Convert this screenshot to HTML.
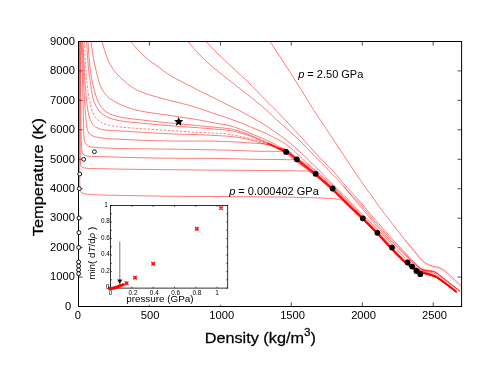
<!DOCTYPE html>
<html><head><meta charset="utf-8"><title>T-rho isobars</title>
<style>
html,body{margin:0;padding:0;background:#fff;}
body{width:491px;height:379px;overflow:hidden;font-family:"Liberation Sans",sans-serif;}
svg{display:block;}
text{font-family:"Liberation Sans",sans-serif;fill:#000;}
svg{will-change:transform;}
</style></head><body>
<svg width="491" height="379" viewBox="0 0 491 379">
<rect width="491" height="379" fill="#fff"/>
<defs><clipPath id="cp"><rect x="78.5" y="41.5" width="383.1" height="265.0"/></clipPath></defs>
<path d="M78.5 306.5h4.1M461.6 306.5h-4.1M78.5 277.1h4.1M461.6 277.1h-4.1M78.5 247.6h4.1M461.6 247.6h-4.1M78.5 218.2h4.1M461.6 218.2h-4.1M78.5 188.7h4.1M461.6 188.7h-4.1M78.5 159.3h4.1M461.6 159.3h-4.1M78.5 129.8h4.1M461.6 129.8h-4.1M78.5 100.4h4.1M461.6 100.4h-4.1M78.5 70.9h4.1M461.6 70.9h-4.1M78.5 41.5h4.1M461.6 41.5h-4.1M78.5 306.5v-4.1M78.5 41.5v4.1M149.4 306.5v-4.1M149.4 41.5v4.1M220.4 306.5v-4.1M220.4 41.5v4.1M291.3 306.5v-4.1M291.3 41.5v4.1M362.3 306.5v-4.1M362.3 41.5v4.1M433.2 306.5v-4.1M433.2 41.5v4.1" stroke="#000" stroke-width="0.7" fill="none"/>
<g clip-path="url(#cp)" fill="none" stroke="#ff0000" stroke-width="0.52" stroke-linejoin="round">
<path d="M79.7 41.5C79.7 67.7 79.7 95.0 79.7 120.0C79.7 143.0 79.6 177.7 79.8 186.0C79.9 187.9 79.8 188.5 80.0 189.6C80.2 190.5 80.5 191.4 81.0 192.0C81.5 192.6 82.2 193.0 83.0 193.3C83.9 193.7 84.7 193.8 86.0 194.0C88.3 194.4 92.4 194.6 96.0 194.8C100.3 195.0 105.3 195.1 110.0 195.2C114.9 195.3 118.7 195.4 125.0 195.5C135.6 195.7 152.4 196.0 168.0 196.2C186.8 196.4 208.7 196.4 230.0 196.6C252.6 196.8 282.3 197.0 300.0 197.4C310.8 197.6 319.6 198.0 326.0 198.3C329.8 198.5 332.6 198.5 335.0 198.8C336.6 199.0 337.7 199.3 339.0 199.6C340.2 199.9 341.2 199.7 342.6 200.5C345.7 202.3 351.3 209.1 355.0 212.6C357.9 215.4 360.0 217.1 363.0 220.1C367.2 224.2 373.0 230.0 377.8 235.0C382.6 240.0 388.3 246.2 392.0 250.2C394.4 252.8 396.2 254.7 398.0 256.5C399.5 258.0 400.5 259.1 402.0 260.4C403.7 261.9 405.7 263.8 407.5 265.1C409.0 266.3 410.5 267.2 412.0 268.1C413.4 269.0 414.9 269.9 416.3 270.7C417.7 271.4 419.1 272.1 420.4 272.6C421.6 273.0 422.8 273.3 424.0 273.6C425.3 274.0 426.8 274.3 428.0 274.7C429.1 275.0 430.0 275.3 431.0 275.6C432.0 275.9 433.1 276.3 434.0 276.6C434.8 276.9 435.4 277.1 436.2 277.5C437.3 278.1 438.5 279.0 440.0 280.1C442.2 281.7 445.3 284.0 448.0 286.0C450.7 288.1 453.5 290.2 456.2 292.3"/>
<path d="M79.9 41.5C79.9 71.0 79.9 109.5 80.0 130.0C80.0 140.9 80.1 149.0 80.2 155.0C80.3 158.4 80.2 161.1 80.4 163.0C80.5 164.1 80.6 164.9 80.8 165.6C81.0 166.2 81.2 166.7 81.6 167.0C82.1 167.4 82.8 167.5 83.5 167.7C84.3 167.9 84.9 168.1 86.0 168.2C88.2 168.5 92.7 168.5 96.0 168.6C99.3 168.7 102.1 168.7 106.0 168.8C111.3 168.9 117.4 169.1 125.0 169.2C136.4 169.4 150.8 169.5 168.0 169.7C194.0 170.0 241.8 170.3 266.0 170.5C280.3 170.6 292.8 170.7 300.0 170.9C303.4 171.0 305.5 170.9 307.4 171.2C308.6 171.4 309.3 171.4 310.4 172.0C311.9 172.7 313.5 174.1 315.4 175.6C317.9 177.6 321.1 180.5 324.0 183.0C326.9 185.5 329.6 187.9 332.6 190.6C336.1 193.9 339.8 197.7 343.5 201.3C347.3 204.9 351.5 209.1 355.0 212.5C357.9 215.2 360.0 217.0 363.0 220.0C367.2 224.1 373.0 229.9 377.8 234.9C382.6 239.9 388.3 246.1 392.0 250.1C394.4 252.7 396.2 254.6 398.0 256.4C399.5 257.9 400.5 259.0 402.0 260.3C403.7 261.8 405.7 263.7 407.5 265.0C409.0 266.2 410.5 267.1 412.0 268.0C413.4 268.9 414.9 269.9 416.3 270.6C417.7 271.4 419.1 272.0 420.4 272.5C421.6 273.0 422.8 273.2 424.0 273.5C425.3 273.9 426.8 274.3 428.0 274.6C429.1 275.0 430.0 275.2 431.0 275.6C432.0 275.9 433.1 276.2 434.0 276.6C434.8 276.9 435.4 277.0 436.2 277.5C437.3 278.1 438.5 279.0 440.0 280.1C442.2 281.6 445.3 283.9 448.0 286.0C450.7 288.0 453.5 290.2 456.2 292.3"/>
<path d="M80.3 41.5C80.4 61.0 80.6 83.7 80.7 100.0C80.8 111.7 80.8 121.7 81.0 130.0C81.1 135.9 81.2 140.9 81.5 145.0C81.7 147.8 81.8 150.4 82.2 152.0C82.4 152.9 82.7 153.5 83.0 154.0C83.3 154.4 83.6 154.7 84.0 155.0C84.5 155.3 85.3 155.6 86.0 155.8C86.7 156.0 87.0 156.1 88.0 156.2C91.0 156.5 99.9 156.6 106.0 156.8C112.2 157.0 117.4 157.2 125.0 157.4C136.4 157.7 153.3 158.0 168.0 158.2C183.3 158.4 200.0 158.2 215.0 158.4C228.9 158.6 242.6 159.1 255.0 159.3C265.7 159.5 279.1 159.5 285.0 159.6C287.5 159.7 288.8 159.9 290.3 159.8C291.4 159.7 292.3 159.0 293.3 159.2C294.4 159.5 295.2 160.6 296.6 161.6C298.9 163.3 302.9 166.2 306.0 168.5C309.1 170.8 312.4 173.0 315.4 175.4C318.4 177.8 321.1 180.3 324.0 182.8C326.9 185.3 329.6 187.7 332.6 190.4C336.1 193.6 339.8 197.5 343.5 201.1C347.3 204.8 351.5 208.9 355.0 212.3C357.9 215.1 360.0 216.9 363.0 219.9C367.2 224.0 373.0 229.7 377.8 234.8C382.6 239.8 388.3 246.0 392.0 250.0C394.4 252.5 396.2 254.5 398.0 256.3C399.5 257.8 400.5 258.9 402.0 260.2C403.7 261.7 405.7 263.6 407.5 264.9C409.0 266.1 410.5 267.0 412.0 267.9C413.4 268.8 414.9 269.8 416.3 270.5C417.7 271.3 419.1 271.9 420.4 272.4C421.6 272.9 422.8 273.1 424.0 273.5C425.3 273.8 426.8 274.2 428.0 274.6C429.1 274.9 430.0 275.2 431.0 275.5C432.0 275.8 433.1 276.2 434.0 276.5C434.8 276.8 435.4 277.0 436.2 277.4C437.3 278.0 438.5 278.9 440.0 280.0C442.2 281.6 445.3 283.9 448.0 285.9C450.7 288.0 453.5 290.1 456.2 292.2"/>
<path d="M81.2 41.5C81.5 48.3 81.7 54.1 82.0 62.0C82.4 72.7 82.7 89.3 83.0 100.0C83.2 107.7 83.3 113.5 83.5 120.0C83.7 126.2 83.6 134.3 84.0 138.0C84.2 139.6 84.3 140.5 84.6 141.5C84.8 142.3 85.0 142.8 85.5 143.5C86.1 144.3 86.9 145.4 88.0 146.0C89.3 146.7 90.9 146.9 93.0 147.2C96.3 147.7 101.3 147.8 106.0 148.0C111.7 148.3 117.4 148.4 125.0 148.6C136.4 148.8 153.3 148.9 168.0 149.1C183.6 149.3 202.9 149.6 216.0 149.9C225.1 150.1 232.0 150.3 239.0 150.5C244.8 150.7 249.4 151.1 255.0 151.2C261.3 151.4 270.6 151.2 275.0 151.3C277.1 151.4 278.5 151.5 279.8 151.5C280.8 151.5 281.4 151.2 282.3 151.4C283.5 151.7 284.6 152.6 286.1 153.6C288.8 155.3 293.2 158.7 296.6 161.2C299.8 163.6 302.9 165.8 306.0 168.1C309.1 170.5 312.4 172.7 315.4 175.1C318.4 177.5 321.1 180.1 324.0 182.6C326.9 185.1 329.6 187.4 332.6 190.2C336.1 193.4 339.8 197.2 343.5 200.8C347.3 204.5 351.5 208.7 355.0 212.1C357.9 214.9 360.0 216.7 363.0 219.7C367.2 223.8 373.0 229.6 377.8 234.6C382.6 239.6 388.3 245.9 392.0 249.8C394.4 252.4 396.2 254.3 398.0 256.1C399.5 257.6 400.5 258.7 402.0 260.1C403.7 261.6 405.7 263.4 407.5 264.8C409.0 265.9 410.5 266.8 412.0 267.8C413.4 268.7 414.9 269.6 416.3 270.4C417.7 271.1 419.1 271.8 420.4 272.3C421.6 272.8 422.8 273.0 424.0 273.4C425.3 273.7 426.8 274.1 428.0 274.5C429.1 274.8 430.0 275.1 431.0 275.4C432.0 275.7 433.1 276.1 434.0 276.4C434.8 276.7 435.4 276.9 436.2 277.3C437.3 277.9 438.5 278.9 440.0 279.9C442.2 281.5 445.3 283.8 448.0 285.8C450.7 287.9 453.5 290.1 456.2 292.2"/>
<path d="M82.0 41.5C82.3 48.3 82.7 55.2 83.0 62.0C83.3 68.7 83.5 75.5 83.8 82.0C84.0 88.2 84.2 94.9 84.5 100.0C84.7 103.8 85.0 106.7 85.2 110.0C85.5 113.3 85.7 116.8 86.0 120.0C86.3 123.1 86.7 126.8 87.2 129.0C87.5 130.3 87.8 131.1 88.2 132.0C88.6 132.8 88.8 133.4 89.5 134.0C90.4 134.9 91.9 135.7 93.5 136.3C95.8 137.1 98.5 137.5 102.0 138.0C107.8 138.8 116.1 139.1 125.0 139.5C137.1 140.1 153.3 140.7 168.0 141.0C183.6 141.3 203.4 140.9 216.0 141.2C224.1 141.4 229.8 141.7 236.0 142.0C241.4 142.3 246.6 142.7 251.0 143.0C254.4 143.2 257.4 143.4 260.0 143.6C261.9 143.7 263.2 143.7 265.0 144.0C267.2 144.3 269.8 145.0 272.0 145.7C274.1 146.4 276.2 147.4 278.0 148.3C279.5 149.0 280.7 149.8 282.0 150.6C283.4 151.4 284.5 151.9 286.1 153.0C288.8 154.7 293.2 158.2 296.6 160.7C299.8 163.1 302.9 165.4 306.0 167.7C309.1 170.1 312.4 172.3 315.4 174.8C318.4 177.2 321.1 179.7 324.0 182.2C326.9 184.8 329.6 187.1 332.6 189.9C336.1 193.1 339.8 196.9 343.5 200.5C347.3 204.2 351.5 208.5 355.0 211.8C357.9 214.7 359.9 216.5 363.0 219.5C367.2 223.6 373.0 229.4 377.8 234.4C382.6 239.4 388.3 245.7 392.0 249.6C394.4 252.2 396.2 254.1 398.0 256.0C399.5 257.4 400.5 258.5 402.0 259.9C403.7 261.4 405.7 263.2 407.5 264.6C409.0 265.8 410.5 266.7 412.0 267.6C413.4 268.6 414.9 269.5 416.3 270.3C417.7 271.0 419.1 271.7 420.4 272.2C421.6 272.7 422.8 272.9 424.0 273.2C425.3 273.6 426.8 274.0 428.0 274.4C429.1 274.7 430.0 275.0 431.0 275.3C432.0 275.6 433.1 276.0 434.0 276.3C434.8 276.6 435.4 276.8 436.2 277.2C437.3 277.8 438.5 278.8 440.0 279.8C442.2 281.4 445.3 283.7 448.0 285.8C450.7 287.8 453.5 290.0 456.2 292.1"/>
<path d="M83.0 41.5C83.3 48.7 83.7 56.1 84.0 63.0C84.3 69.5 84.6 75.8 85.0 82.0C85.4 88.1 86.0 95.2 86.5 100.0C86.8 103.2 87.1 105.3 87.5 108.0C87.9 110.7 88.3 113.5 89.0 116.0C89.7 118.3 90.4 120.6 91.5 122.5C92.6 124.2 93.8 125.8 95.5 127.0C97.3 128.2 99.6 128.9 102.0 129.5C104.9 130.2 108.4 130.2 112.0 130.5C116.0 130.8 119.4 130.9 125.0 131.2C135.2 131.8 155.5 133.2 168.0 133.8C177.7 134.2 185.7 134.3 194.0 134.6C201.6 134.9 209.4 135.1 216.0 135.5C221.5 135.8 226.0 136.0 231.0 136.5C236.0 137.1 241.3 137.8 246.0 138.8C250.2 139.7 254.5 141.0 258.0 142.0C260.6 142.7 262.7 143.3 265.0 144.0C267.3 144.7 269.8 145.2 272.0 146.0C274.1 146.8 275.9 147.7 278.0 148.6C280.5 149.7 283.3 150.5 286.1 152.1C289.5 154.1 293.2 157.4 296.6 160.0C299.8 162.5 302.9 164.8 306.0 167.2C309.1 169.6 312.4 171.9 315.4 174.3C318.4 176.7 321.1 179.3 324.0 181.8C326.9 184.3 329.6 186.7 332.6 189.5C336.1 192.7 339.8 196.5 343.5 200.1C347.3 203.9 351.5 208.1 355.0 211.5C357.9 214.3 359.9 216.2 363.0 219.2C367.2 223.4 373.0 229.1 377.8 234.2C382.6 239.2 388.3 245.4 392.0 249.4C394.4 252.0 396.2 253.9 398.0 255.7C399.5 257.2 400.5 258.3 402.0 259.6C403.7 261.2 405.7 263.0 407.5 264.4C409.0 265.6 410.5 266.5 412.0 267.4C413.4 268.4 414.9 269.3 416.3 270.1C417.7 270.8 419.1 271.5 420.4 272.0C421.6 272.5 422.8 272.7 424.0 273.1C425.3 273.5 426.8 273.9 428.0 274.2C429.1 274.6 430.0 274.8 431.0 275.2C432.0 275.5 433.1 275.9 434.0 276.2C434.8 276.5 435.4 276.7 436.2 277.1C437.3 277.7 438.5 278.7 440.0 279.7C442.2 281.3 445.3 283.6 448.0 285.7C450.7 287.7 453.5 289.9 456.2 292.0"/>
<path d="M84.5 41.5C84.8 48.7 85.1 56.6 85.5 63.0C85.8 68.2 86.1 72.3 86.5 77.0C86.9 81.9 87.4 87.8 88.0 92.0C88.4 95.1 89.0 97.4 89.5 100.0C90.0 102.4 90.3 104.7 91.0 107.0C91.7 109.4 92.3 111.8 93.5 114.0C94.7 116.2 96.1 118.4 98.0 120.0C99.9 121.7 102.4 123.0 105.0 124.0C107.7 125.1 110.8 125.6 114.0 126.2C117.5 126.8 121.0 127.1 125.0 127.5C129.6 127.9 134.2 128.2 140.0 128.6C147.9 129.1 158.8 129.8 168.0 130.4C176.8 131.0 185.7 131.7 194.0 132.2C201.6 132.6 210.1 132.9 216.0 133.2C220.0 133.4 222.7 133.4 226.0 133.8C229.3 134.2 232.7 134.9 236.0 135.5C239.3 136.1 242.5 136.7 246.0 137.5C249.8 138.4 254.6 139.6 258.0 140.6C260.7 141.4 262.7 142.2 265.0 143.0C267.3 143.8 269.8 144.7 272.0 145.6C274.1 146.4 275.8 147.3 278.0 148.2C280.5 149.2 283.3 149.8 286.1 151.3C289.5 153.2 293.2 156.7 296.6 159.4C299.8 161.9 302.9 164.3 306.0 166.7C309.1 169.1 312.4 171.4 315.4 173.9C318.4 176.3 321.1 178.9 324.0 181.4C326.9 183.9 329.6 186.2 332.6 189.0C336.1 192.3 339.8 196.1 343.5 199.8C347.3 203.5 351.5 207.7 355.0 211.2C357.9 214.0 359.9 215.9 363.0 219.0C367.2 223.1 373.0 228.9 377.8 233.9C382.6 238.9 388.3 245.2 392.0 249.1C394.4 251.7 396.2 253.6 398.0 255.5C399.5 257.0 400.5 258.1 402.0 259.4C403.7 260.9 405.7 262.8 407.5 264.2C409.0 265.3 410.5 266.3 412.0 267.2C413.4 268.2 414.9 269.1 416.3 269.9C417.7 270.6 419.1 271.3 420.4 271.9C421.6 272.3 422.8 272.6 424.0 272.9C425.3 273.3 426.8 273.7 428.0 274.1C429.1 274.4 430.0 274.7 431.0 275.0C432.0 275.4 433.1 275.7 434.0 276.1C434.8 276.4 435.4 276.6 436.2 277.0C437.3 277.6 438.5 278.6 440.0 279.6C442.2 281.2 445.3 283.5 448.0 285.6C450.7 287.6 453.5 289.8 456.2 291.9" stroke-dasharray="2.3 1.7"/>
<path d="M86.5 41.5C87.0 48.7 87.5 57.0 88.0 63.0C88.4 67.3 88.6 70.2 89.1 74.0C89.6 78.2 90.4 83.1 91.0 87.0C91.5 90.3 92.0 93.6 92.5 96.0C92.8 97.6 93.0 98.6 93.5 100.0C94.1 101.8 95.0 104.0 96.0 106.0C97.1 108.1 98.4 110.3 100.0 112.0C101.7 113.8 103.8 115.3 106.0 116.5C108.4 117.8 111.1 118.7 114.0 119.5C117.3 120.4 121.0 120.9 125.0 121.5C129.6 122.1 134.2 122.4 140.0 123.0C147.9 123.8 158.8 124.9 168.0 125.6C176.8 126.3 185.7 126.8 194.0 127.4C201.6 128.0 209.4 128.6 216.0 129.2C221.5 129.7 226.0 129.8 231.0 130.7C236.0 131.6 241.3 133.1 246.0 134.6C250.3 136.0 254.5 137.9 258.0 139.3C260.7 140.4 262.7 141.2 265.0 142.2C267.3 143.1 269.8 144.0 272.0 145.0C274.1 145.9 275.8 147.0 278.0 147.8C280.5 148.7 283.4 148.9 286.1 150.3C289.5 152.1 293.2 155.8 296.6 158.5C299.8 161.1 302.9 163.6 306.0 166.1C309.1 168.5 312.4 170.8 315.4 173.3C318.4 175.8 321.1 178.3 324.0 180.9C326.9 183.4 329.6 185.7 332.6 188.5C336.1 191.8 339.8 195.6 343.5 199.3C347.3 203.0 351.5 207.3 355.0 210.8C357.9 213.6 359.9 215.6 363.0 218.6C367.2 222.8 373.0 228.5 377.8 233.6C382.6 238.6 388.3 244.9 392.0 248.8C394.4 251.4 396.2 253.3 398.0 255.2C399.5 256.7 400.5 257.8 402.0 259.1C403.7 260.7 405.7 262.5 407.5 263.9C409.0 265.1 410.5 266.0 412.0 267.0C413.4 267.9 414.9 268.9 416.3 269.7C417.7 270.4 419.1 271.1 420.4 271.6C421.6 272.1 422.8 272.4 424.0 272.7C425.3 273.1 426.8 273.5 428.0 273.9C429.1 274.2 430.0 274.5 431.0 274.9C432.0 275.2 433.1 275.6 434.0 275.9C434.8 276.2 435.4 276.4 436.2 276.9C437.3 277.5 438.5 278.4 440.0 279.5C442.2 281.0 445.3 283.4 448.0 285.4C450.7 287.5 453.5 289.7 456.2 291.8"/>
<path d="M88.0 41.5C88.5 48.5 88.9 56.4 89.5 62.5C90.0 67.2 90.3 70.9 91.0 75.0C91.7 79.1 92.6 83.3 93.5 87.0C94.3 90.2 95.2 93.6 96.0 96.0C96.5 97.6 96.9 98.6 97.5 100.0C98.2 101.6 99.0 103.4 100.0 105.0C101.1 106.7 102.4 108.5 104.0 110.0C105.7 111.6 107.8 112.9 110.0 114.0C112.4 115.1 115.4 115.8 118.0 116.5C120.4 117.1 121.9 117.4 125.0 117.9C130.8 118.8 142.3 120.0 150.0 120.9C156.5 121.6 161.4 122.2 168.0 122.8C175.9 123.6 185.7 124.4 194.0 125.2C201.6 125.9 209.4 126.7 216.0 127.4C221.5 128.0 226.0 128.0 231.0 129.0C236.0 130.0 241.3 131.8 246.0 133.5C250.3 135.0 254.5 137.0 258.0 138.4C260.7 139.5 262.7 140.4 265.0 141.4C267.3 142.4 269.8 143.4 272.0 144.4C274.1 145.3 275.8 146.4 278.0 147.2C280.5 148.1 283.4 147.9 286.1 149.3C289.6 151.0 293.2 154.9 296.6 157.7C299.8 160.3 302.8 162.9 306.0 165.4C309.1 167.9 312.4 170.3 315.4 172.8C318.4 175.2 321.1 177.8 324.0 180.3C326.9 182.9 329.6 185.2 332.6 188.0C336.1 191.3 339.8 195.1 343.5 198.8C347.3 202.6 351.5 206.8 355.0 210.3C357.9 213.2 359.9 215.2 363.0 218.3C367.2 222.5 373.0 228.2 377.8 233.3C382.6 238.3 388.3 244.5 392.0 248.5C394.4 251.1 396.2 253.0 398.0 254.9C399.5 256.4 400.5 257.5 402.0 258.8C403.7 260.4 405.7 262.2 407.5 263.6C409.0 264.8 410.5 265.7 412.0 266.7C413.4 267.7 414.9 268.6 416.3 269.4C417.7 270.2 419.1 270.9 420.4 271.4C421.6 271.9 422.8 272.1 424.0 272.5C425.3 272.9 426.8 273.3 428.0 273.7C429.1 274.1 430.0 274.4 431.0 274.7C432.0 275.1 433.1 275.4 434.0 275.8C434.8 276.1 435.4 276.3 436.2 276.7C437.3 277.3 438.5 278.3 440.0 279.3C442.2 280.9 445.3 283.3 448.0 285.3C450.7 287.4 453.5 289.5 456.2 291.7"/>
<path d="M91.0 41.5C91.5 45.3 91.9 49.1 92.5 53.0C93.2 57.2 94.1 62.0 95.0 66.0C95.8 69.6 96.8 73.1 97.5 76.0C98.1 78.3 98.3 79.8 99.0 82.0C99.9 84.7 101.3 88.3 103.0 91.0C104.7 93.6 107.2 96.4 109.0 98.0C110.1 99.0 110.8 99.3 112.0 100.0C113.6 101.0 115.9 102.4 118.0 103.5C120.2 104.6 122.4 105.5 125.0 106.5C128.0 107.6 131.6 108.9 135.0 109.8C138.6 110.7 141.7 111.3 146.0 112.0C152.1 113.0 160.4 114.1 168.0 115.2C176.3 116.4 185.7 117.7 194.0 119.1C201.7 120.4 209.4 122.0 216.0 123.2C221.5 124.2 226.1 124.7 231.0 126.0C236.1 127.4 241.7 129.7 246.0 131.4C249.4 132.7 251.9 134.0 255.0 135.3C258.2 136.7 261.7 137.9 265.0 139.4C268.4 140.9 271.7 142.5 275.0 144.3C278.4 146.1 282.0 148.2 285.0 150.2C287.6 151.9 289.2 153.3 292.0 155.2C295.8 157.8 301.9 161.2 306.0 164.2C309.5 166.7 312.4 169.1 315.4 171.6C318.4 174.1 321.1 176.7 324.0 179.3C326.9 181.8 329.6 184.2 332.6 187.0C336.1 190.3 339.8 194.1 343.5 197.8C347.3 201.6 351.5 205.9 355.0 209.5C357.9 212.5 359.9 214.5 363.0 217.7C367.2 221.9 373.0 227.6 377.8 232.6C382.6 237.7 388.3 243.9 392.0 247.9C394.4 250.5 396.2 252.4 398.0 254.3C399.5 255.8 400.5 256.9 402.0 258.3C403.7 259.8 405.7 261.7 407.5 263.0C409.0 264.3 410.5 265.2 412.0 266.2C413.4 267.2 414.9 268.1 416.3 268.9C417.7 269.7 419.1 270.4 420.4 271.0C421.6 271.5 422.8 271.7 424.0 272.1C425.3 272.5 426.8 273.0 428.0 273.4C429.1 273.7 430.0 274.0 431.0 274.4C432.0 274.7 433.1 275.1 434.0 275.5C434.8 275.8 435.4 276.0 436.2 276.4C437.3 277.0 438.5 278.0 440.0 279.1C442.2 280.6 445.3 283.0 448.0 285.0C450.7 287.1 453.5 289.3 456.2 291.4"/>
<path d="M102.0 41.5C102.8 44.3 103.6 47.1 104.5 50.0C105.5 53.2 106.6 56.8 108.0 60.0C109.4 63.1 111.2 66.4 113.0 69.0C114.6 71.3 116.1 73.0 118.0 75.0C120.1 77.2 122.7 79.6 124.9 81.5C126.7 83.1 128.2 84.3 130.0 85.6C131.9 87.0 133.5 88.3 136.0 89.6C139.6 91.5 145.0 93.3 150.0 95.0C155.6 96.8 161.8 98.4 168.0 100.0C174.5 101.7 181.4 103.1 188.0 105.0C194.7 106.9 202.8 109.7 208.0 111.4C211.3 112.5 212.7 113.1 216.0 114.2C221.2 116.0 229.5 118.5 236.0 121.0C242.5 123.4 249.7 126.6 255.0 128.8C258.9 130.4 262.3 131.8 265.0 133.0C267.0 133.9 267.9 134.3 270.0 135.4C273.7 137.3 281.2 141.1 285.0 143.6C287.5 145.2 289.1 146.6 291.0 148.2C292.8 149.7 294.3 151.2 296.0 152.8C297.9 154.6 300.0 156.5 302.0 158.4C304.0 160.3 305.8 162.4 308.0 164.3C310.3 166.3 312.9 168.0 315.4 170.2C318.2 172.5 321.1 175.3 324.0 177.9C326.9 180.5 329.6 182.8 332.6 185.7C336.1 188.9 339.8 192.9 343.5 196.6C347.3 200.4 351.5 204.8 355.0 208.4C357.9 211.4 359.9 213.6 363.0 216.8C367.2 221.1 373.0 226.7 377.8 231.8C382.6 236.8 388.3 243.1 392.0 247.1C394.4 249.7 396.2 251.6 398.0 253.5C399.5 255.0 400.5 256.1 402.0 257.5C403.7 259.1 405.7 260.9 407.5 262.3C409.0 263.5 410.5 264.5 412.0 265.5C413.4 266.5 414.9 267.5 416.3 268.3C417.7 269.1 419.1 269.9 420.4 270.4C421.6 270.9 422.8 271.2 424.0 271.6C425.3 272.0 426.8 272.5 428.0 272.9C429.1 273.3 430.0 273.6 431.0 274.0C432.0 274.3 433.1 274.7 434.0 275.1C434.8 275.4 435.4 275.6 436.2 276.0C437.3 276.7 438.5 277.6 440.0 278.7C442.2 280.3 445.3 282.6 448.0 284.7C450.7 286.8 453.5 289.0 456.2 291.1"/>
<path d="M130.6 41.5C133.7 45.0 136.7 48.7 140.0 52.0C143.2 55.2 146.6 58.3 150.0 61.0C153.3 63.6 156.9 65.7 160.0 68.0C162.8 70.1 164.6 71.8 168.0 74.0C173.1 77.3 181.3 81.5 188.0 85.0C194.6 88.5 201.3 91.7 208.0 95.0C214.7 98.3 221.9 102.0 228.0 105.0C233.1 107.5 237.4 109.6 242.0 112.0C246.4 114.3 251.0 116.9 255.0 119.2C258.6 121.2 261.6 122.9 265.0 125.0C268.6 127.3 272.5 130.2 276.0 132.6C279.2 134.8 282.5 137.0 285.0 139.0C286.9 140.5 288.3 141.7 290.0 143.2C291.9 144.8 294.0 146.5 296.0 148.2C298.0 150.0 300.0 151.9 302.0 153.8C304.0 155.7 305.7 157.4 308.0 159.6C311.1 162.6 316.3 167.5 318.8 170.0C320.2 171.4 320.8 171.9 322.0 173.2C323.7 175.0 325.8 177.5 328.2 180.0C331.5 183.3 336.7 188.1 340.0 191.3C342.4 193.6 344.0 195.3 346.0 197.4C348.1 199.5 350.2 202.0 352.2 204.0C354.0 205.8 355.4 207.1 357.3 209.0C359.9 211.6 363.2 215.0 366.4 218.2C370.0 221.8 373.8 225.7 377.8 229.8C382.3 234.4 387.7 239.8 392.0 244.3C395.6 248.1 399.1 252.0 402.0 254.9C404.1 256.9 405.8 258.4 407.5 260.0C409.1 261.4 410.5 262.8 412.0 264.0C413.4 265.1 414.6 266.3 416.0 267.2C417.3 268.1 418.6 269.0 420.0 269.6C421.3 270.2 422.7 270.5 424.0 270.9C425.3 271.3 426.8 271.5 428.0 271.8C429.1 272.0 430.0 272.2 431.0 272.4C432.0 272.7 433.1 272.9 434.0 273.3C434.8 273.7 435.4 274.1 436.2 274.7C437.3 275.5 438.5 276.5 440.0 277.7C442.2 279.4 445.2 281.8 448.0 284.0C451.0 286.3 454.1 288.9 457.2 291.3"/>
<path d="M188.0 41.5C191.3 45.3 194.6 49.4 198.0 53.0C201.3 56.5 204.4 59.7 208.0 63.0C211.7 66.4 215.8 69.6 220.0 73.0C224.5 76.6 229.3 80.3 234.0 84.0C238.7 87.7 243.1 91.0 248.0 95.0C253.6 99.5 260.8 105.2 265.8 109.6C269.7 113.1 272.6 116.1 276.0 119.2C279.3 122.2 282.8 125.1 286.0 128.0C289.1 130.8 291.8 133.3 294.9 136.2C298.2 139.3 302.0 142.9 305.1 146.0C307.7 148.7 310.3 151.6 312.2 153.6C313.4 154.9 313.8 155.3 315.2 156.7C318.1 159.7 324.6 165.8 329.2 170.6C334.0 175.6 340.0 182.1 343.4 186.0C345.4 188.3 346.2 189.4 348.0 191.6C350.7 194.9 355.5 200.5 358.3 203.8C360.2 206.1 360.9 207.1 363.0 209.6C367.2 214.6 375.8 225.1 382.0 231.8C387.5 237.8 393.4 243.6 398.0 248.2C401.4 251.6 404.3 254.3 407.0 257.0C409.2 259.2 411.1 261.3 413.0 263.0C414.6 264.4 416.2 265.5 417.6 266.6C418.8 267.5 419.8 268.4 421.0 269.0C422.2 269.7 423.6 270.1 425.0 270.5C426.6 270.9 428.4 271.0 430.0 271.3C431.4 271.5 432.8 271.6 434.0 272.0C435.1 272.4 436.1 273.0 437.0 273.6C437.8 274.1 438.4 274.7 439.3 275.4C440.6 276.4 442.2 277.7 444.0 279.1C446.3 280.9 449.4 283.3 452.0 285.4C454.6 287.4 457.1 289.4 459.6 291.4"/>
<path d="M343.4 186.0C345.3 188.1 346.9 190.0 349.2 192.4C352.2 195.7 357.3 200.6 360.1 203.8C362.0 206.0 362.7 207.1 364.8 209.6C369.0 214.6 377.8 225.2 383.8 231.8C388.8 237.3 393.8 242.3 398.0 246.6C401.3 250.0 404.3 253.0 407.0 255.8C409.2 258.0 411.1 260.1 413.0 261.9C414.6 263.5 416.1 265.0 417.6 266.2C418.8 267.2 419.8 268.0 421.0 268.7C422.2 269.4 423.6 269.8 425.0 270.2C426.6 270.6 428.4 270.7 430.0 271.0C431.4 271.2 432.8 271.3 434.0 271.7C435.1 272.1 436.1 272.7 437.0 273.3C437.8 273.8 438.4 274.4 439.3 275.1C440.6 276.1 442.2 277.4 444.0 278.8C446.3 280.6 449.3 283.0 452.0 285.1C454.6 287.2 457.3 289.3 459.9 291.4"/>
<path d="M206.0 41.5C210.0 45.7 213.8 49.9 218.0 54.0C222.4 58.4 227.2 62.5 232.0 67.0C237.2 71.8 242.6 76.7 248.0 82.0C253.8 87.8 260.4 95.0 265.8 100.4C270.1 104.7 273.5 107.8 277.6 112.0C282.3 116.8 288.4 123.4 292.5 127.8C295.5 131.0 297.5 133.1 300.1 136.0C303.0 139.1 306.2 142.7 309.0 145.8C311.5 148.6 314.2 151.7 316.1 153.8C317.3 155.2 317.8 155.7 319.2 157.2C322.1 160.2 328.2 165.9 332.6 170.6C337.1 175.5 342.3 182.1 345.8 186.0C348.0 188.4 349.1 189.5 351.2 191.8C354.2 195.1 359.0 200.4 361.9 203.8C363.9 206.2 364.7 207.3 367.0 210.0C371.3 215.1 380.1 225.5 385.7 231.8C390.2 236.8 394.2 241.0 398.0 245.0C401.2 248.5 404.3 251.7 407.0 254.6C409.2 256.9 411.1 259.0 413.0 261.0C414.6 262.7 416.1 264.4 417.6 265.7C418.8 266.7 419.8 267.6 421.0 268.3C422.2 269.0 423.6 269.4 425.0 269.8C426.6 270.2 428.4 270.3 430.0 270.6C431.4 270.8 432.8 270.9 434.0 271.3C435.1 271.7 436.1 272.3 437.0 272.9C437.8 273.4 438.4 274.0 439.3 274.7C440.6 275.7 442.2 277.0 444.0 278.4C446.3 280.2 449.3 282.6 452.0 284.7C454.7 286.9 457.5 289.1 460.2 291.3"/>
<path d="M270.0 41.5C275.3 49.7 280.7 57.8 286.0 66.0C291.4 74.3 297.1 83.2 302.0 91.0C306.3 97.9 309.6 103.7 314.0 110.5C318.9 118.1 324.6 126.4 330.0 134.5C335.5 142.8 341.4 151.7 346.6 159.6C351.3 166.7 356.0 173.8 360.0 179.6C363.2 184.2 366.2 188.4 368.8 192.0C370.8 194.7 372.2 196.7 374.0 199.2C376.0 202.0 377.6 204.7 380.1 208.0C383.5 212.7 388.9 219.4 392.8 224.4C396.1 228.6 399.6 233.1 401.8 236.0C403.1 237.7 403.9 238.6 405.0 240.0C406.2 241.5 407.5 242.9 409.0 244.6C410.8 246.8 413.3 249.9 415.0 252.0C416.3 253.5 417.3 254.7 418.3 255.9C419.2 257.0 420.0 258.0 420.9 258.9C421.7 259.8 422.6 260.6 423.5 261.3C424.3 262.0 425.1 262.6 426.0 263.2C426.8 263.8 427.7 264.3 428.6 264.7C429.4 265.1 430.1 265.3 431.0 265.6C432.2 266.0 433.7 266.3 435.1 266.6C436.4 266.9 437.8 267.1 439.0 267.5C440.2 267.9 441.4 268.5 442.5 269.1C443.6 269.7 444.5 270.5 445.5 271.3C446.6 272.2 447.5 273.1 448.8 274.2C450.6 275.8 452.8 277.9 455.0 279.9C457.5 282.2 460.3 284.8 463.0 287.2"/>
<path d="M405.0 240.4C406.3 241.9 407.6 243.3 409.0 245.0C410.8 247.2 413.3 250.4 415.0 252.5C416.2 254.0 417.1 255.2 418.1 256.4C419.0 257.5 419.7 258.5 420.6 259.5C421.4 260.4 422.2 261.2 423.1 262.0C423.9 262.7 424.8 263.4 425.7 264.0C426.6 264.6 427.4 265.2 428.3 265.6C429.2 266.0 430.0 266.3 431.0 266.6C432.2 267.0 433.7 267.3 435.1 267.7C436.4 268.0 437.8 268.2 439.0 268.7C440.2 269.1 441.3 269.7 442.3 270.4C443.3 271.0 444.2 271.8 445.2 272.6C446.3 273.5 447.2 274.4 448.4 275.5C450.1 277.1 452.3 279.2 454.5 281.2C457.0 283.5 459.8 286.1 462.5 288.6" stroke-opacity="0.45"/>
<path d="M268.0 143.4C269.3 144.0 270.5 144.6 272.0 145.3C273.8 146.2 275.9 147.3 278.0 148.4C280.5 149.7 283.4 151.3 286.1 152.8" stroke-width="1.1" stroke-linecap="round"/>
<path d="M278.0 148.4C280.7 149.3 283.4 149.6 286.1 151.1C289.5 152.9 293.2 156.5 296.6 159.2C299.8 161.7 302.9 164.2 306.0 166.6C309.1 169.0 312.4 171.3 315.4 173.8C318.4 176.2 321.1 178.8 324.0 181.3C326.9 183.8 329.6 186.1 332.6 188.9C336.1 192.2 339.8 196.0 343.5 199.7C347.3 203.4 351.2 207.3 355.0 211.1" stroke-width="1.3" stroke-linecap="round"/>
<path d="M355.0 210.5C357.7 213.2 359.9 215.4 363.0 218.4C367.2 222.6 373.0 228.4 377.8 233.4C382.6 238.4 388.3 244.7 392.0 248.6C394.4 251.2 396.2 253.2 398.0 255.0C399.5 256.5 400.5 257.6 402.0 258.9C403.7 260.5 405.7 262.3 407.5 263.7C409.0 264.9 410.5 265.8 412.0 266.8C413.4 267.8 414.9 268.7 416.3 269.5C417.7 270.3 419.1 271.0 420.4 271.5C421.6 272.0 422.8 272.2 424.0 272.6C425.3 273.0 426.8 273.4 428.0 273.8C429.1 274.1 430.0 274.4 431.0 274.8C432.0 275.1 433.1 275.5 434.0 275.9C434.8 276.2 435.4 276.3 436.2 276.8C437.3 277.4 438.5 278.3 440.0 279.4C442.2 281.0 445.3 283.3 448.0 285.3C450.7 287.4 453.5 289.6 456.2 291.7" stroke-width="1.4" stroke-linecap="round"/>
</g>
<!-- inset -->
<rect x="86" y="200.5" width="148" height="104.3" fill="#fff" stroke="none"/>
<rect x="110.6" y="205.5" width="117.1" height="82.6" fill="none" stroke="#000" stroke-width="0.8"/>
<path d="M110.6 288.1h1.5M227.7 288.1h-1.5M110.6 279.8h1.5M227.7 279.8h-1.5M110.6 271.6h1.5M227.7 271.6h-1.5M110.6 263.3h1.5M227.7 263.3h-1.5M110.6 255.1h1.5M227.7 255.1h-1.5M110.6 246.8h1.5M227.7 246.8h-1.5M110.6 238.5h1.5M227.7 238.5h-1.5M110.6 230.3h1.5M227.7 230.3h-1.5M110.6 222.0h1.5M227.7 222.0h-1.5M110.6 213.8h1.5M227.7 213.8h-1.5M110.6 205.5h1.5M227.7 205.5h-1.5M110.6 288.1v-1.5M110.6 205.5v1.5M131.9 288.1v-1.5M131.9 205.5v1.5M153.2 288.1v-1.5M153.2 205.5v1.5M174.5 288.1v-1.5M174.5 205.5v1.5M195.8 288.1v-1.5M195.8 205.5v1.5M217.1 288.1v-1.5M217.1 205.5v1.5" stroke="#000" stroke-width="0.6" fill="none"/>
<path d="M219.2 206.3l3.6 3.6M219.2 209.9l3.6 -3.6M195.0 227.0l3.6 3.6M195.0 230.6l3.6 -3.6M151.4 262.0l3.6 3.6M151.4 265.6l3.6 -3.6M133.2 275.8l3.6 3.6M133.2 279.4l3.6 -3.6M124.8 281.4l3.6 3.6M124.8 285.0l3.6 -3.6M108.2 287.1l2.5 2.5M108.2 289.6l2.5 -2.5M109.0 287.1l2.5 2.5M109.0 289.6l2.5 -2.5M110.0 287.1l2.5 2.5M110.0 289.6l2.5 -2.5M111.2 287.1l2.5 2.5M111.2 289.6l2.5 -2.5M112.2 286.9l2.5 2.5M112.2 289.4l2.5 -2.5M113.3 286.6l2.5 2.5M113.3 289.1l2.5 -2.5M114.5 286.4l2.5 2.5M114.5 288.9l2.5 -2.5M115.5 285.9l2.5 2.5M115.5 288.4l2.5 -2.5M116.8 285.4l2.5 2.5M116.8 287.9l2.5 -2.5M118.0 284.9l2.5 2.5M118.0 287.4l2.5 -2.5M119.2 284.4l2.5 2.5M119.2 286.9l2.5 -2.5M120.5 283.9l2.5 2.5M120.5 286.4l2.5 -2.5M122.0 283.4l2.5 2.5M122.0 285.9l2.5 -2.5" stroke="#ff0000" stroke-width="1.15" fill="none"/>
<path d="M219.0 208.1h4.0M221.0 206.1v4.0M194.8 228.8h4.0M196.8 226.8v4.0M151.2 263.8h4.0M153.2 261.8v4.0M133.0 277.6h4.0M135.0 275.6v4.0M124.6 283.2h4.0M126.6 281.2v4.0M108.0 288.3h2.8M109.4 286.9v2.8M108.9 288.4h2.8M110.3 287.0v2.8M109.9 288.4h2.8M111.3 287.0v2.8M111.0 288.3h2.8M112.4 286.9v2.8M112.1 288.1h2.8M113.5 286.7v2.8M113.2 287.9h2.8M114.6 286.5v2.8M114.3 287.6h2.8M115.7 286.2v2.8M115.4 287.2h2.8M116.8 285.8v2.8M116.6 286.7h2.8M118.0 285.3v2.8M117.8 286.2h2.8M119.2 284.8v2.8M119.1 285.7h2.8M120.5 284.3v2.8M120.4 285.2h2.8M121.8 283.8v2.8M121.8 284.7h2.8M123.2 283.3v2.8" stroke="#ff0000" stroke-width="0.55" fill="none"/>
<path d="M119.8 241.4V280" stroke="#444" stroke-width="0.7" fill="none"/>
<polygon points="117.2,279.6 122.4,279.6 119.8,283.9" fill="#111"/>
<g font-size="6.4px"><text x="109.3" y="289.2" text-anchor="end">0</text><text x="109.8" y="272.7" text-anchor="end">0.2</text><text x="109.8" y="256.2" text-anchor="end">0.4</text><text x="109.8" y="239.6" text-anchor="end">0.6</text><text x="109.8" y="223.1" text-anchor="end">0.8</text><text x="107.8" y="206.6" text-anchor="end">1</text><text x="110.6" y="294.9" text-anchor="middle">0</text><text x="133.0" y="294.9" text-anchor="middle">0.2</text><text x="154.3" y="294.9" text-anchor="middle">0.4</text><text x="175.6" y="294.9" text-anchor="middle">0.6</text><text x="196.9" y="294.9" text-anchor="middle">0.8</text><text x="217.1" y="294.9" text-anchor="middle">1</text></g>
<text x="159.9" y="302.2" font-size="9.9px" text-anchor="middle">pressure (GPa)</text>
<text transform="translate(94.9,253.3) rotate(-90)" font-size="9.8px" text-anchor="middle">min( d<tspan font-style="italic">T</tspan>/d<tspan font-style="italic">&#961;</tspan> )</text>
<!-- main frame -->
<rect x="78.5" y="41.5" width="383.1" height="265.0" fill="none" stroke="#000" stroke-width="1.0"/>
<g font-size="11.2px"><text x="71.3" y="309.7" text-anchor="end">0</text><text x="74.9" y="280.3" text-anchor="end">1000</text><text x="74.9" y="250.8" text-anchor="end">2000</text><text x="74.9" y="221.4" text-anchor="end">3000</text><text x="74.9" y="191.9" text-anchor="end">4000</text><text x="74.9" y="162.5" text-anchor="end">5000</text><text x="74.9" y="133.0" text-anchor="end">6000</text><text x="74.9" y="103.6" text-anchor="end">7000</text><text x="74.9" y="74.1" text-anchor="end">8000</text><text x="74.9" y="44.7" text-anchor="end">9000</text><text x="77.9" y="319.2" text-anchor="middle">0</text><text x="150.1" y="319.2" text-anchor="middle">500</text><text x="221.7" y="319.2" text-anchor="middle">1000</text><text x="292.6" y="319.2" text-anchor="middle">1500</text><text x="363.6" y="319.2" text-anchor="middle">2000</text><text x="434.5" y="319.2" text-anchor="middle">2500</text></g>
<!-- markers -->
<g fill="#000"><circle cx="286.1" cy="151.9" r="2.9"/><circle cx="296.8" cy="159.3" r="2.9"/><circle cx="315.6" cy="173.8" r="2.9"/><circle cx="332.6" cy="188.5" r="2.9"/><circle cx="362.8" cy="218.3" r="2.9"/><circle cx="377.4" cy="232.8" r="2.9"/><circle cx="392.0" cy="247.6" r="2.9"/><circle cx="407.6" cy="262.4" r="2.9"/><circle cx="412.2" cy="266.6" r="2.9"/><circle cx="416.4" cy="271.0" r="2.9"/><circle cx="420.3" cy="274.2" r="2.9"/></g>
<g fill="#fff" stroke="#000" stroke-width="0.9"><circle cx="94.4" cy="151.7" r="1.95"/><circle cx="83.7" cy="159.3" r="1.95"/><circle cx="79.7" cy="174.0" r="1.95"/><circle cx="79.3" cy="188.6" r="1.95"/><circle cx="79.0" cy="218.0" r="1.95"/><circle cx="78.9" cy="232.6" r="1.95"/><circle cx="78.7" cy="247.5" r="1.95"/><circle cx="78.6" cy="262.0" r="1.95"/><circle cx="78.6" cy="266.0" r="1.95"/><circle cx="78.6" cy="269.9" r="1.95"/><circle cx="78.6" cy="273.7" r="1.95"/></g>
<polygon points="178.70,117.00 179.96,120.11 183.31,120.35 180.74,122.51 181.55,125.77 178.70,124.00 175.85,125.77 176.66,122.51 174.09,120.35 177.44,120.11" fill="#000"/>
<!-- labels -->
<text x="298.2" y="77.6" font-size="11px"><tspan font-style="italic">p</tspan> = 2.50 GPa</text>
<text x="229.2" y="194.6" font-size="11px"><tspan font-style="italic">p</tspan> = 0.000402 GPa</text>
<text transform="translate(204.7,343.3) scale(1.105,1)" font-size="14.7px" stroke="#000" stroke-width="0.25">Density (kg/m<tspan font-size="10.6px" dy="-6.9">3</tspan><tspan dy="6.9">)</tspan></text>
<text transform="translate(42.8,236.2) rotate(-90) scale(1.113,1)" font-size="14.7px" stroke="#000" stroke-width="0.25">Temperature (K)</text>
</svg>
</body></html>
